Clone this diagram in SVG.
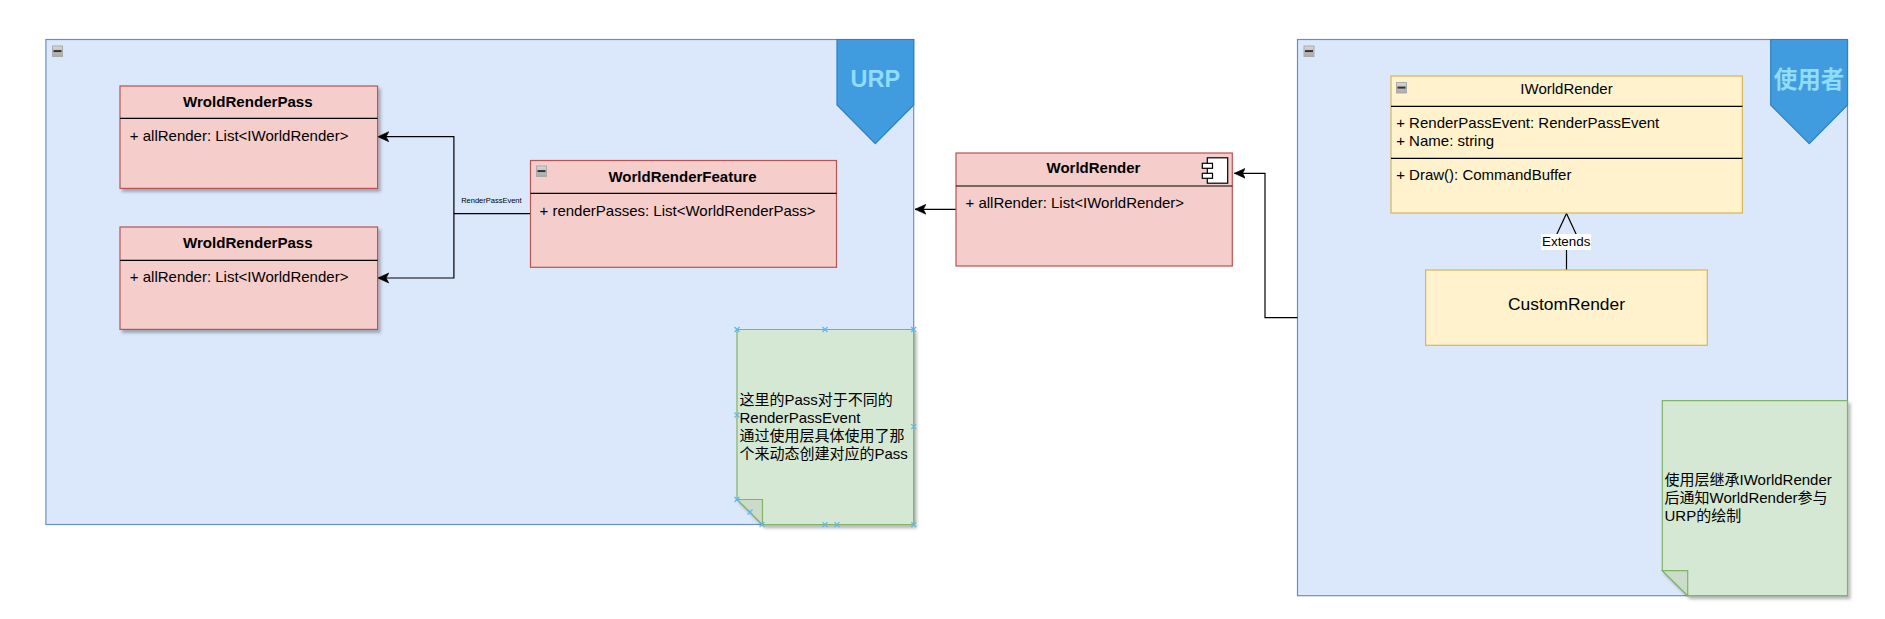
<svg xmlns="http://www.w3.org/2000/svg" xmlns:xlink="http://www.w3.org/1999/xlink" width="1885" height="619" viewBox="0 0 1885 619">
<style>
text{font-family:"Liberation Sans","Noto Sans CJK SC",sans-serif;font-size:15px;fill:#000}
.title{font-weight:bold;text-anchor:middle}
.mid{text-anchor:middle}
.cont{fill:#dbe8fc;stroke:#6c8ebf;stroke-width:1.2}
.red{fill:#f5cdcb;stroke:#b85450;stroke-width:1.2}
.yel{fill:#fff2cc;stroke:#d6b656;stroke-width:1.2}
.grn{fill:#d5e8d4;stroke:#82b366;stroke-width:1.2}
.fold{fill:#cbdcca;stroke:#82b366;stroke-width:1.2}
.div{stroke:#000;stroke-width:1.2;fill:none}
.edge{stroke:#000;stroke-width:1.2;fill:none}
.pen{fill:#419bdf;stroke:#2f80c4;stroke-width:1.2}
.pent{font-weight:bold;font-size:23.5px;fill:#8fdcfb;text-anchor:middle}
.x{stroke:#5bb8f0;stroke-width:1.2;fill:none}
</style>
<defs>
<marker id="arrow" markerUnits="userSpaceOnUse" markerWidth="13" markerHeight="12" refX="11" refY="6" orient="auto"><path d="M11 6L0 1L2.7 6L0 11Z" fill="#000" stroke="#000" stroke-width="0.6"/></marker>
<linearGradient id="mg" x1="0" y1="0" x2="0" y2="1"><stop offset="0" stop-color="#d8d8d8"/><stop offset="1" stop-color="#a8a8a8"/></linearGradient>
<g id="minus"><rect x="0.5" y="0.5" width="10" height="10.5" fill="url(#mg)" stroke="#aaa"/><rect x="1.5" y="4.6" width="8" height="2" fill="#333"/></g>
<filter id="sh" x="-5%" y="-5%" width="112%" height="112%"><feDropShadow dx="2.5" dy="3" stdDeviation="1.6" flood-color="#000" flood-opacity="0.28"/></filter>
<path id="xm" class="x" d="M-2.5-2.5L2.5 2.5M-2.5 2.5L2.5-2.5"/>
</defs>

<g id="urp-container">
<rect class="cont" x="45.9" y="39.5" width="867.8" height="485"/>
<use href="#minus" x="52" y="45.5"/>
</g>
<g id="urp-flag">
<path class="pen" d="M837 39.5H913.7V105L875.3 143.7L837 105Z"/>
<text class="pent" x="875.3" y="86.5">URP</text>
</g>

<g id="user-container">
<rect class="cont" x="1297.5" y="39.5" width="550" height="556.2"/>
<use href="#minus" x="1303.5" y="45.5"/>
</g>
<g id="user-flag">
<path class="pen" d="M1770.7 39.5H1847.5V105L1809.3 143.7L1770.7 105Z"/>
<text class="pent" x="1809" y="88">使用者</text>
</g>

<g id="connectors">
<path class="edge" d="M530.5 213.7H453.9V136.7H377.8" marker-end="url(#arrow)"/>
<path class="edge" d="M453.9 213.7V278H377.8" marker-end="url(#arrow)"/>
<path class="edge" d="M956 209.3H915" marker-end="url(#arrow)"/>
<path class="edge" d="M1297.5 317.7H1265V173.3H1234.3" marker-end="url(#arrow)"/>
<path class="edge" d="M1566.5 270V237"/>
<path class="edge" d="M1556 236L1566.5 213.4L1577 236"/>
</g>

<g id="pass-1">
<rect class="red" x="120" y="86" width="257.6" height="102.4" filter="url(#sh)"/>
<path class="div" d="M120 118.3H377.6"/>
<text class="title" x="247.8" y="106.5" style="font-size:15.1px">WroldRenderPass</text>
<text x="129.8" y="141">+ allRender: List&lt;IWorldRender&gt;</text>
</g>
<g id="pass-2">
<rect class="red" x="120" y="227" width="257.6" height="102.4" filter="url(#sh)"/>
<path class="div" d="M120 260.3H377.6"/>
<text class="title" x="247.8" y="248" style="font-size:15.1px">WroldRenderPass</text>
<text x="129.8" y="282">+ allRender: List&lt;IWorldRender&gt;</text>
</g>
<g id="feature">
<rect class="red" x="530.5" y="160.5" width="306" height="106.8"/>
<path class="div" d="M530.5 193.3H836.5"/>
<use href="#minus" x="536" y="165.5"/>
<text class="title" x="682.5" y="182">WorldRenderFeature</text>
<text x="539.5" y="216">+ renderPasses: List&lt;WorldRenderPass&gt;</text>
</g>
<g id="edge-label">
<text class="mid" x="491.4" y="203" style="font-size:7.5px">RenderPassEvent</text>
</g>
<g id="world-render">
<rect class="red" x="956" y="153" width="276.3" height="113"/>
<path class="div" d="M956 186H1232.3"/>
<text class="title" x="1093.5" y="173">WorldRender</text>
<text x="965.5" y="208">+ allRender: List&lt;IWorldRender&gt;</text>
<g fill="#fff" stroke="#000" stroke-width="1.2">
<rect x="1207.3" y="157.8" width="20.4" height="25.4"/>
<rect x="1202.3" y="163.3" width="10.2" height="5"/>
<rect x="1202.3" y="173.3" width="10.2" height="5"/>
</g>
</g>
<g id="iworld-render">
<rect class="yel" x="1391" y="76" width="351.4" height="137"/>
<path class="div" d="M1391 106.3H1742.4M1391 158.3H1742.4"/>
<use href="#minus" x="1396" y="82"/>
<text class="mid" x="1566.5" y="94">IWorldRender</text>
<text x="1396.2" y="127.5">+ RenderPassEvent: RenderPassEvent</text>
<text x="1396.2" y="145.5">+ Name: string</text>
<text x="1396.2" y="180">+ Draw(): CommandBuffer</text>
</g>
<g id="custom-render">
<rect class="yel" x="1425.6" y="270" width="281.7" height="75.3"/>
<text class="mid" x="1566.5" y="310" style="font-size:17.4px">CustomRender</text>
</g>
<g id="extends-label">
<rect x="1541.3" y="234" width="49.6" height="16" fill="#fff"/>
<text class="mid" x="1566.2" y="245.5" style="font-size:13.4px">Extends</text>
</g>
<g id="note-1">
<path class="grn" d="M737 329.5H913.7V524.7H762.5L737 499.5Z" filter="url(#sh)"/>
<path class="fold" d="M737 499.5H762.5V524.7Z"/>
<text x="739.5" y="405">这里的Pass对于不同的</text>
<text x="739.5" y="423">RenderPassEvent</text>
<text x="739.5" y="441">通过使用层具体使用了那</text>
<text x="739.5" y="459">个来动态创建对应的Pass</text>
<use href="#xm" x="737" y="329.5"/><use href="#xm" x="825" y="329.5"/><use href="#xm" x="913.7" y="329.5"/>
<use href="#xm" x="737" y="415"/><use href="#xm" x="913.7" y="426.7"/>
<use href="#xm" x="737" y="499.5"/><use href="#xm" x="750" y="512"/><use href="#xm" x="762" y="524.7"/>
<use href="#xm" x="825" y="524.7"/><use href="#xm" x="837" y="524.7"/><use href="#xm" x="913.7" y="524.7"/>
</g>
<g id="note-2">
<path class="grn" d="M1662.3 400.7H1847.5V595.7H1687.7L1662.3 570.7Z" filter="url(#sh)"/>
<path class="fold" d="M1662.3 570.7H1687.7V595.7Z"/>
<text x="1664.5" y="485">使用层继承IWorldRender</text>
<text x="1664.5" y="503">后通知WorldRender参与</text>
<text x="1664.5" y="521">URP的绘制</text>
</g>
</svg>
